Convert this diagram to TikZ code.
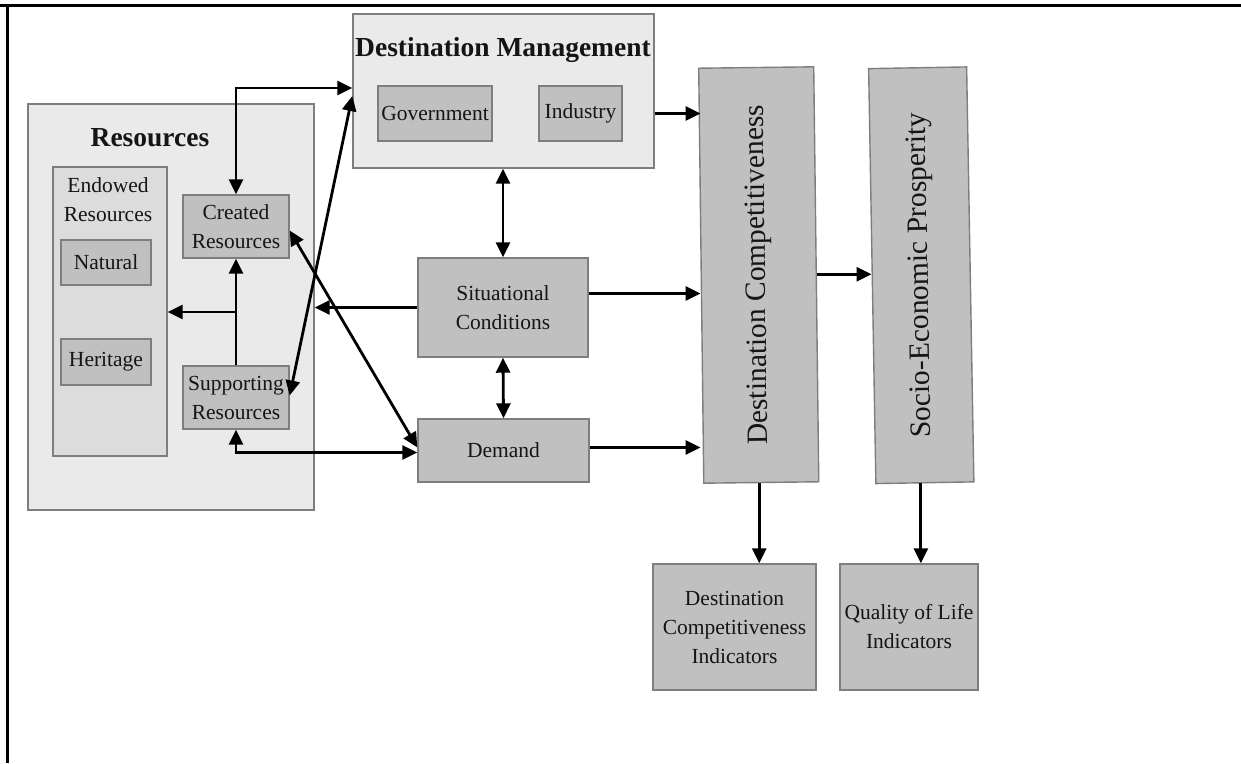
\documentclass[tikz,border=0pt]{standalone}
\usepackage{fontspec}
\setmainfont{Liberation Serif}
\usetikzlibrary{arrows.meta}

\definecolor{panel}{HTML}{EAEAEA}
\definecolor{inner}{HTML}{DCDCDC}
\definecolor{boxfill}{HTML}{C0C0C0}
\definecolor{edge}{HTML}{7E7E7E}
\definecolor{ink}{HTML}{151515}

\tikzset{
  panelbox/.style={draw=edge, line width=1.4pt, fill=panel, inner sep=0pt},
  innerbox/.style={draw=edge, line width=1.4pt, fill=inner, inner sep=0pt},
  graybox/.style={draw=edge, line width=1.4pt, fill=boxfill, align=center,
    inner sep=0pt, text=ink, font=\fontsize{21.5}{29}\selectfont},
  tallbox/.style={draw=edge, line width=1.4pt, fill=boxfill, inner sep=0pt,
    text=ink, font=\fontsize{29.5}{34}\selectfont},
  plainlabel/.style={align=center, inner sep=0pt, text=ink,
    font=\fontsize{21.5}{29}\selectfont},
  heading/.style={inner sep=0pt, text=ink, font=\bfseries\fontsize{27.5}{32}\selectfont},
  link/.style={line width=2.8pt, -{Triangle[length=15pt,width=14pt]}},
  bilink/.style={line width=2.8pt, {Triangle[length=15pt,width=14pt]}-{Triangle[length=15pt,width=14pt]}},
}

\begin{document}
\begin{tikzpicture}[x=1pt, y=-1pt]
  \useasboundingbox (0,0) rectangle (1241,763);

  % page frame (top and left rules)
  \draw[line width=3.2pt] (0,5.5) -- (1241,5.5);
  \draw[line width=2.2pt] (7.5,5) -- (7.5,763);

  % Resources group
  \node[panelbox, minimum width=286pt, minimum height=406pt] (resources) at (171,307) {};
  \node[heading] (restitle) at (150,138) {Resources};
  \node[innerbox, minimum width=114pt, minimum height=289pt] (endowed) at (110,311.5) {};
  \node[plainlabel] (endowedlabel) at (108,200) {Endowed\\Resources};
  \node[graybox, minimum width=90pt, minimum height=45pt] (natural) at (106,262.5) {Natural};
  \node[graybox, minimum width=90pt, minimum height=46pt] (heritage) at (106,362) {Heritage};
  \node[graybox, minimum width=106pt, minimum height=63pt] (created) at (236,226.5) {Created\\Resources};
  \node[graybox, minimum width=106pt, minimum height=63pt] (supporting) at (236,397.5) {Supporting\\Resources};

  % Destination management group
  \node[panelbox, minimum width=301pt, minimum height=154pt] (dm) at (503.5,91) {};
  \node[heading] (dmtitle) at (503,50) {Destination Management};
  \node[graybox, minimum width=114pt, minimum height=55pt] (government) at (435,113.5) {Government};
  \node[graybox, minimum width=83pt, minimum height=55pt] (industry) at (580.5,113.5) {Industry};

  % central column
  \node[graybox, minimum width=170pt, minimum height=99pt] (situational) at (503,307.5) {Situational\\Conditions};
  \node[graybox, minimum width=171pt, minimum height=63pt] (demand) at (503.5,450.5) {Demand};

  % outcome columns
  \node[tallbox, rotate=0.7, minimum width=115pt, minimum height=415pt] (dc) at (758.75,275)
    {\rotatebox{90}{Destination Competitiveness}};
  \node[tallbox, rotate=1.0, minimum width=98pt, minimum height=415pt] (sep) at (921.25,275.25)
    {\rotatebox{90}{Socio-Economic Prosperity}};

  % indicators
  \node[graybox, minimum width=163pt, minimum height=126pt] (dci) at (734.5,627)
    {Destination\\Competitiveness\\Indicators};
  \node[graybox, minimum width=138pt, minimum height=126pt] (qol) at (909,627)
    {Quality of Life\\Indicators};

  % connectors inside and around the resources group
  \coordinate (fork) at (236,312);
  \draw[link] (supporting.north) -- (created.south);
  \draw[link] (fork) -- (fork -| endowed.east);
  \draw[bilink] (created.north) |- ([yshift=3pt]dm.west);
  \draw[bilink] ([yshift=2pt]supporting.east) -- ([yshift=-5pt]dm.west);
  \draw[bilink] ([yshift=-4pt]created.east) -- ([yshift=3pt]demand.west);
  \draw[bilink] (supporting.south) |- ([yshift=-2pt]demand.west);
  \draw[link] (situational.west) -- (situational.west -| resources.east);

  % central vertical links
  \draw[bilink] (dm.south -| situational.north) -- (situational.north);
  \draw[bilink] (situational.south) -- (demand.north);

  % links into the competitiveness column
  \draw[link] (industry.east -| dm.east) -- (industry.east -| dc.west);
  \draw[link] ([yshift=14pt]situational.east) -- ([yshift=14pt]situational.east -| dc.west);
  \draw[link] ([yshift=3pt]demand.east) -- ([yshift=3pt]demand.east -| dc.west);
  \draw[link] (dc.east) -- (dc.east -| sep.west);

  % links down to the indicators
  \draw[link] ([xshift=-2pt]dc.south) -- ([xshift=-2pt]dc.south |- dci.north);
  \draw[link] ([xshift=-4pt]sep.south) -- ([xshift=-4pt]sep.south |- qol.north);
\end{tikzpicture}
\end{document}
